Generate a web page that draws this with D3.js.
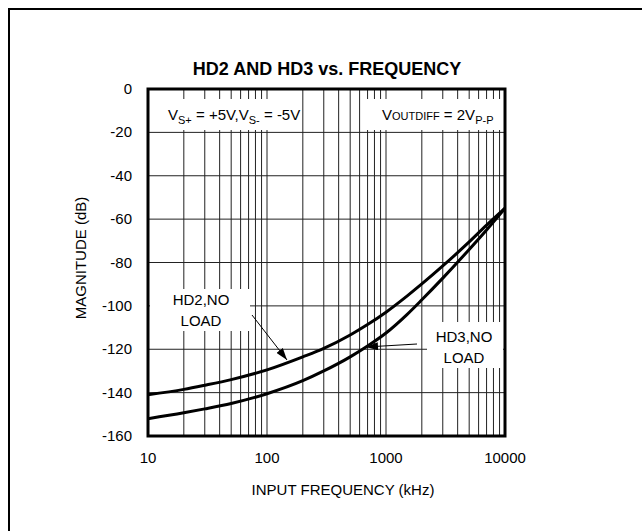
<!DOCTYPE html>
<html>
<head>
<meta charset="utf-8">
<script src="https://cdn.jsdelivr.net/npm/d3@7"></script>
<style>
  body { margin: 0; background: #fff; }
  text { font-family: "Liberation Sans", Arial, sans-serif; fill: #000; }
</style>
</head>
<body>
<div id="chart"></div>
<script>
// HD2 and HD3 vs. frequency
const freqs = [10, 20, 30, 50, 100, 200, 300, 500, 700, 1000, 1500, 2000, 3000, 5000, 7000, 10000];
const hd2 = [-141, -138.5, -136.6, -134, -129.5, -123.5, -119.6, -113.4, -108.6, -102.9, -95.5, -89.9, -81.6, -70.5, -62.8, -55];
const hd3 = [-152, -149.3, -147.5, -145, -140.5, -134.5, -130, -123.5, -118.5, -112.5, -104, -97.2, -87.2, -74, -65, -55];
const xTicks = [10, 100, 1000, 10000];
const yTicks = [0, -20, -40, -60, -80, -100, -120, -140, -160];

const W = 642, H = 531;
const svg = d3.select("#chart").append("svg").attr("width", W).attr("height", H);

// outer frame (only top/left edges fall inside the picture)
svg.append("rect").attr("x", 9).attr("y", 9).attr("width", 700).attr("height", 600)
    .attr("fill", "none").attr("stroke", "#000").attr("stroke-width", 2);

const plot = { left: 148, right: 505, top: 89, bottom: 436 };
const x = d3.scaleLog().domain([10, 10000]).range([plot.left, plot.right]);
const y = d3.scaleLinear().domain([-160, 0]).range([plot.bottom, plot.top]);

// grid
const minor = [];
for (let d = 10; d < 10000; d *= 10) {
    for (let k = 1; k <= 9; k++) minor.push(d * k);
}
const grid = svg.append("g").attr("stroke", "#222").attr("stroke-width", 1);
grid.selectAll("line.v").data(minor.slice(1)).enter().append("line")
    .attr("x1", d => x(d)).attr("x2", d => x(d))
    .attr("y1", plot.top).attr("y2", plot.bottom);
grid.selectAll("line.h").data(yTicks.slice(1, -1)).enter().append("line")
    .attr("x1", plot.left).attr("x2", plot.right)
    .attr("y1", d => y(d)).attr("y2", d => y(d));

// white label boxes over the grid
const boxes = [
    { x: 150, y: 99, w: 152, h: 31 },
    { x: 365, y: 99, w: 138, h: 31 },
    { x: 150, y: 289, w: 100, h: 42 },
    { x: 427, y: 322, w: 76, h: 46 }
];
svg.selectAll("rect.box").data(boxes).enter().append("rect")
    .attr("x", d => d.x).attr("y", d => d.y).attr("width", d => d.w).attr("height", d => d.h)
    .attr("fill", "#fff");

// curves
const line = d3.line().x(d => x(d[0])).y(d => y(d[1])).curve(d3.curveMonotoneX);
[hd2, hd3].forEach(s => {
    svg.append("path").datum(freqs.map((f, i) => [f, s[i]]))
        .attr("d", line).attr("fill", "none").attr("stroke", "#000").attr("stroke-width", 3);
});

// plot border
svg.append("rect").attr("x", plot.left).attr("y", plot.top)
    .attr("width", plot.right - plot.left).attr("height", plot.bottom - plot.top)
    .attr("fill", "none").attr("stroke", "#000").attr("stroke-width", 3);

// axes labels
svg.selectAll("text.yt").data(yTicks).enter().append("text")
    .attr("x", 132).attr("y", d => y(d) + 5)
    .attr("text-anchor", "end").attr("font-size", 15).text(d => d);
svg.selectAll("text.xt").data(xTicks).enter().append("text")
    .attr("x", d => x(d)).attr("y", 463)
    .attr("text-anchor", "middle").attr("font-size", 15).text(d => d);

svg.append("text").attr("x", 343).attr("y", 495).attr("text-anchor", "middle")
    .attr("font-size", 15).text("INPUT FREQUENCY (kHz)");
svg.append("text").attr("transform", "translate(86,258) rotate(-90)")
    .attr("text-anchor", "middle").attr("font-size", 15).text("MAGNITUDE (dB)");

svg.append("text").attr("x", 327).attr("y", 75).attr("text-anchor", "middle")
    .attr("font-size", 18).attr("font-weight", "bold").text("HD2 AND HD3 vs. FREQUENCY");

// conditions
const vs = svg.append("text").attr("x", 168).attr("y", 120).attr("font-size", 15);
vs.append("tspan").text("V");
vs.append("tspan").attr("font-size", 11).attr("dy", 4).text("S+");
vs.append("tspan").attr("dy", -4).text(" = +5V,V");
vs.append("tspan").attr("font-size", 11).attr("dy", 4).text("S-");
vs.append("tspan").attr("dy", -4).text(" = -5V");

const vo = svg.append("text").attr("x", 382).attr("y", 120).attr("font-size", 15);
vo.append("tspan").text("V");
vo.append("tspan").attr("font-size", 11).text("OUTDIFF");
vo.append("tspan").text(" = 2V");
vo.append("tspan").attr("font-size", 11).attr("dy", 4).text("P-P");

// annotations
svg.append("defs").append("marker").attr("id", "arr")
    .attr("viewBox", "0 0 12 8").attr("refX", 12).attr("refY", 4)
    .attr("markerWidth", 12).attr("markerHeight", 8).attr("markerUnits", "userSpaceOnUse")
    .attr("orient", "auto")
    .append("path").attr("d", "M0,0L12,4L0,8Z").attr("fill", "#000");

const notes = [
    { lines: ["HD2,NO", "LOAD"], cx: 201, y: 305, from: [252, 315], to: [287, 360] },
    { lines: ["HD3,NO", "LOAD"], cx: 464, y: 342, from: [417, 344], to: [366, 347] }
];
notes.forEach(n => {
    n.lines.forEach((t, i) => {
        svg.append("text").attr("x", n.cx).attr("y", n.y + i * 21)
            .attr("text-anchor", "middle").attr("font-size", 15).text(t);
    });
    svg.append("line").attr("x1", n.from[0]).attr("y1", n.from[1])
        .attr("x2", n.to[0]).attr("y2", n.to[1])
        .attr("stroke", "#000").attr("stroke-width", 1).attr("marker-end", "url(#arr)");
});
</script>
</body>
</html>
